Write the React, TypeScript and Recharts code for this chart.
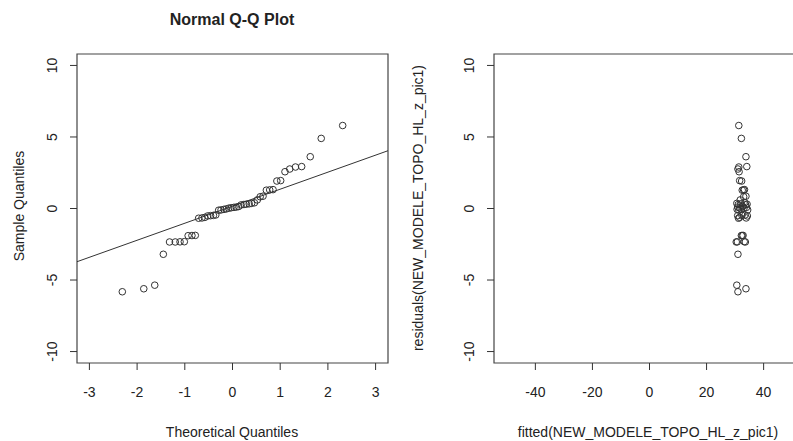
import React from "react"
import { ScatterChart, Scatter, XAxis, YAxis, ReferenceArea, ReferenceLine } from "recharts"

// theoretical quantiles (x of left panel)
const theoretical = [
  -2.31, -1.86, -1.63, -1.45, -1.32, -1.2, -1.1, -1.01, -0.93, -0.85, -0.78, -0.71,
  -0.64, -0.58, -0.52, -0.46, -0.4, -0.35, -0.29, -0.24, -0.18, -0.13, -0.08, -0.03,
  0.03, 0.08, 0.13, 0.18, 0.24, 0.29, 0.35, 0.4, 0.46, 0.52, 0.58, 0.64,
  0.71, 0.78, 0.85, 0.93, 1.01, 1.1, 1.2, 1.32, 1.45, 1.63, 1.86, 2.31,
]

// sorted residuals (sample quantiles, y of both panels)
const residuals = [
  -5.82, -5.61, -5.36, -3.2, -2.34, -2.34, -2.33, -2.32, -1.9, -1.89, -1.88, -0.68,
  -0.66, -0.62, -0.52, -0.5, -0.48, -0.45, -0.12, -0.1, -0.06, -0.03, 0.02, 0.05,
  0.08, 0.1, 0.14, 0.25, 0.28, 0.3, 0.33, 0.36, 0.4, 0.6, 0.82, 0.86,
  1.28, 1.3, 1.32, 1.92, 1.95, 2.57, 2.76, 2.9, 2.93, 3.62, 4.9, 5.8,
]

// fitted values paired with the residuals above (right panel)
const fitted = [
  31.0, 33.8, 30.6, 31.0, 30.4, 33.6, 30.8, 33.2, 32.5, 32.2, 32.8, 31.2,
  33.9, 31.6, 34.3, 30.9, 32.4, 33.5, 31.3, 34.4, 30.7, 32.1, 33.1, 31.5,
  34.0, 30.9, 32.6, 33.7, 31.1, 34.2, 32.0, 30.6, 33.4, 31.8, 33.0, 33.8,
  32.5, 33.0, 33.3, 32.3, 31.6, 31.4, 31.0, 31.3, 34.1, 33.8, 32.2, 31.3,
]

// qqline through the quartiles
const qqIntercept = 0.16
const qqSlope = 1.19

const qqXDomain: [number, number] = [-3.26, 3.26]
const qqXTicks = [-3, -2, -1, 0, 1, 2, 3]
const yDomain: [number, number] = [-10.8, 10.8]
const yTicks = [-10, -5, 0, 5, 10]
const fitXDomain: [number, number] = [-54.5, 54.5]
const fitXTicks = [-40, -20, 0, 20, 40]

const FONT = '"Liberation Sans", Arial, sans-serif'
const INK = "#222"

const qqData = theoretical.map((x, i) => ({ x, y: residuals[i] }))
const fitData = fitted.map((x, i) => ({ x, y: residuals[i] }))

const OpenCircle = (props: any) => (
  <circle cx={props.cx} cy={props.cy} r={3.3} fill="none" stroke="#333" strokeWidth={1} />
)

const YTick = (props: any) => {
  const cx = props.x - 16
  return (
    <text
      x={cx}
      y={props.y}
      dy="0.35em"
      textAnchor="middle"
      transform={`rotate(-90, ${cx}, ${props.y})`}
      fontFamily={FONT}
      fontSize={14}
      fill={INK}
    >
      {props.payload.value}
    </text>
  )
}

const XTick = (props: any) => (
  <text x={props.x} y={props.y + 24.5} textAnchor="middle" fontFamily={FONT} fontSize={14} fill={INK}>
    {props.payload.value}
  </text>
)

const label = (style: React.CSSProperties, text: string, bold = false) => (
  <div
    style={{
      position: "absolute",
      fontFamily: FONT,
      fontSize: bold ? 16 : 14,
      fontWeight: bold ? "bold" : "normal",
      color: INK,
      whiteSpace: "nowrap",
      lineHeight: "16px",
      ...style,
    }}
  >
    {text}
  </div>
)

export default function App() {
  return (
    <div
      style={{
        position: "fixed",
        left: 0,
        top: 0,
        width: 793,
        height: 441,
        overflow: "hidden",
        background: "#fff",
      }}
    >
      <div style={{ position: "absolute", left: 0, top: 0 }}>
        <ScatterChart width={400} height={441} margin={{ top: 54, right: 12, bottom: 0, left: 0 }}>
          <XAxis
            type="number"
            dataKey="x"
            domain={qqXDomain}
            ticks={qqXTicks}
            allowDataOverflow
            axisLine={false}
            tickLine={{ stroke: "#333" }}
            tickSize={7}
            height={78}
            tick={<XTick />}
          />
          <YAxis
            type="number"
            dataKey="y"
            domain={yDomain}
            ticks={yTicks}
            allowDataOverflow
            axisLine={false}
            tickLine={{ stroke: "#333" }}
            tickSize={7}
            width={77}
            tick={<YTick />}
          />
          <ReferenceArea
            x1={qqXDomain[0]}
            x2={qqXDomain[1]}
            y1={yDomain[0]}
            y2={yDomain[1]}
            fill="none"
            stroke="#444"
            strokeWidth={1.2}
          />
          <ReferenceLine
            segment={[
              { x: qqXDomain[0], y: qqIntercept + qqSlope * qqXDomain[0] },
              { x: qqXDomain[1], y: qqIntercept + qqSlope * qqXDomain[1] },
            ]}
            stroke="#333"
            strokeWidth={1}
          />
          <Scatter data={qqData} shape={<OpenCircle />} isAnimationActive={false} />
        </ScatterChart>
      </div>

      <div style={{ position: "absolute", left: 400, top: 0 }}>
        <ScatterChart width={420} height={441} margin={{ top: 54, right: 15, bottom: 0, left: 0 }}>
          <XAxis
            type="number"
            dataKey="x"
            domain={fitXDomain}
            ticks={fitXTicks}
            allowDataOverflow
            axisLine={false}
            tickLine={{ stroke: "#333" }}
            tickSize={7}
            height={78}
            tick={<XTick />}
          />
          <YAxis
            type="number"
            dataKey="y"
            domain={yDomain}
            ticks={yTicks}
            allowDataOverflow
            axisLine={false}
            tickLine={{ stroke: "#333" }}
            tickSize={7}
            width={94}
            tick={<YTick />}
          />
          <ReferenceArea
            x1={fitXDomain[0]}
            x2={fitXDomain[1]}
            y1={yDomain[0]}
            y2={yDomain[1]}
            fill="none"
            stroke="#444"
            strokeWidth={1.2}
          />
          <Scatter data={fitData} shape={<OpenCircle />} isAnimationActive={false} />
        </ScatterChart>
      </div>

      {label({ left: 232, top: 12, transform: "translateX(-50%)" }, "Normal Q-Q Plot", true)}
      {label({ left: 232, top: 424, transform: "translateX(-50%)" }, "Theoretical Quantiles")}
      {label(
        { left: 19, top: 206, transform: "translate(-50%, -50%) rotate(-90deg)" },
        "Sample Quantiles"
      )}
      {label({ left: 648, top: 424, transform: "translateX(-50%)" }, "fitted(NEW_MODELE_TOPO_HL_z_pic1)")}
      {label(
        { left: 418, top: 208, transform: "translate(-50%, -50%) rotate(-90deg)" },
        "residuals(NEW_MODELE_TOPO_HL_z_pic1)"
      )}
    </div>
  )
}
